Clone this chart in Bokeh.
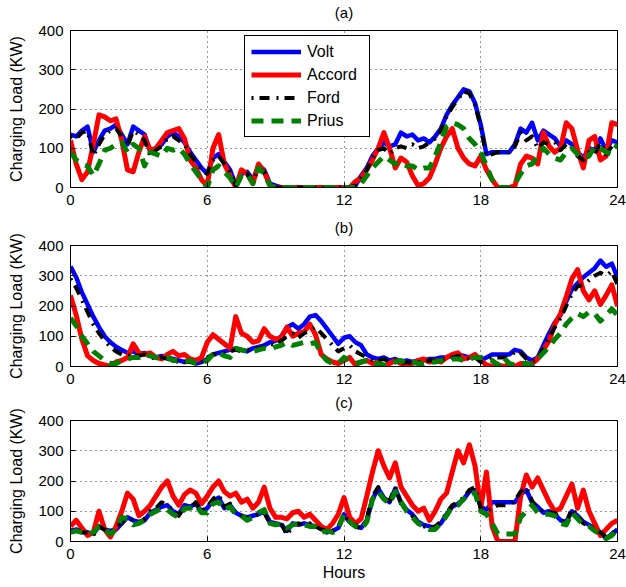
from bokeh.plotting import figure
from bokeh.layouts import column
from bokeh.models import Range1d, FixedTicker, Legend, LegendItem, LinearAxis
from bokeh.embed import file_html
from bokeh.resources import INLINE

# ---------------- data (kW, sampled every 0.25 h from 0 to 24 h) ----------------
hours = [i * 0.25 for i in range(97)]
x_ticks = [0, 6, 12, 18, 24]
y_ticks = [0, 100, 200, 300, 400]
series_names = ["Volt", "Accord", "Ford", "Prius"]

a_volt = [135, 130, 145, 155, 90, 120, 145, 150, 160, 135, 110, 155,
          145, 135, 90, 100, 110, 130, 140, 130, 115, 90, 70, 50,
          35, 75, 85, 65, 45, 5, 35, 40, 20, 55, 45, 10,
          5, 0, 0, 0, 0, 0, 0, 0, 0, 0, 0, 0,
          0, 0, 5, 30, 50, 80, 100, 115, 105, 110, 140, 130,
          135, 120, 125, 115, 130, 150, 185, 210, 230, 250, 245, 215,
          160, 85, 90, 90, 90, 90, 110, 150, 140, 165, 120, 145,
          135, 125, 105, 120, 110, 90, 75, 100, 95, 125, 95, 120,
          115]
a_accord = [120, 60, 20, 40, 110, 185, 180, 170, 175, 120, 45, 40,
            90, 130, 95, 100, 120, 140, 145, 150, 125, 70, 50, 20,
            5, 100, 135, 60, 30, 0, 45, 35, 10, 60, 40, 5,
            0, 0, 0, 0, 0, 0, 0, 0, 0, 0, 0, 0,
            0, 0, 15, 25, 45, 70, 100, 140, 100, 50, 75, 65,
            30, 5, 10, 25, 60, 100, 130, 150, 100, 75, 60, 55,
            80, 45, 20, 0, 0, 0, 5, 60, 80, 75, 60, 140,
            105, 90, 100, 165, 150, 95, 50, 120, 130, 70, 80, 165,
            160]
a_ford = [130, 125, 140, 145, 80, 110, 135, 145, 150, 130, 105, 145,
          135, 120, 80, 95, 105, 125, 130, 120, 110, 85, 65, 45,
          35, 70, 80, 60, 40, 5, 30, 35, 15, 50, 40, 5,
          0, 0, 0, 0, 0, 0, 0, 0, 0, 0, 0, 0,
          0, 0, 5, 25, 45, 75, 95, 100, 85, 100, 105, 100,
          110, 100, 105, 115, 125, 145, 180, 205, 225, 245, 240, 210,
          155, 80, 85, 90, 90, 90, 105, 140, 120, 130, 100, 115,
          110, 115, 95, 110, 100, 80, 70, 90, 85, 115, 85, 105,
          100]
a_prius = [90, 70, 60, 55, 30, 60, 95, 100, 110, 115, 90, 110,
           100, 55, 90, 85, 80, 100, 95, 100, 85, 60, 40, 20,
           0, 45, 55, 40, 25, 0, 30, 35, 10, 50, 35, 5,
           0, 0, 0, 0, 0, 0, 0, 0, 0, 0, 0, 0,
           0, 0, 0, 10, 30, 50, 65, 80, 70, 60, 65, 55,
           55, 45, 50, 50, 80, 115, 155, 165, 160, 150, 125, 110,
           90, 55, 20, 0, 0, 0, 10, 35, 55, 60, 80, 100,
           85, 75, 70, 90, 100, 85, 75, 80, 105, 100, 90, 85,
           110]

b_volt = [330, 295, 245, 205, 165, 130, 100, 80, 65, 55, 45, 50,
          40, 45, 35, 30, 35, 30, 25, 20, 15, 20, 10, 15,
          25, 40, 45, 50, 55, 60, 55, 50, 60, 65, 70, 80,
          85, 100, 130, 140, 125, 140, 165, 170, 150, 125, 100, 75,
          95, 100, 80, 70, 40, 30, 25, 30, 20, 25, 15, 20,
          15, 20, 20, 25, 25, 30, 30, 35, 40, 35, 30, 35,
          20, 30, 40, 40, 40, 40, 55, 50, 30, 20, 30, 70,
          110, 145, 170, 215, 255, 275, 295, 310, 325, 350, 330, 340,
          295]
b_accord = [235, 170, 90, 35, 20, 10, 5, 0, 15, 20, 30, 75,
            45, 40, 45, 30, 25, 40, 50, 35, 40, 25, 20, 30,
            80, 105, 90, 75, 60, 165, 110, 100, 80, 85, 125, 100,
            90, 95, 130, 100, 110, 115, 140, 105, 40, 25, 15, 10,
            20, 30, 5, 15, 20, 10, 15, 0, 10, 20, 10, 5,
            10, 20, 25, 15, 20, 15, 30, 40, 45, 25, 30, 40,
            20, 5, 0, 5, 0, 5, 0, 10, 5, 10, 25, 55,
            85, 140, 175, 230, 290, 320, 250, 220, 250, 205, 235, 270,
            200]
b_ford = [290, 260, 220, 180, 140, 110, 85, 65, 50, 40, 35, 40,
          35, 40, 30, 25, 30, 25, 20, 15, 15, 15, 10, 15,
          30, 40, 40, 45, 50, 55, 50, 55, 55, 60, 65, 75,
          70, 85, 100, 110, 95, 110, 120, 130, 110, 90, 70, 50,
          60, 70, 50, 40, 30, 20, 20, 25, 15, 20, 10, 15,
          10, 15, 15, 20, 20, 25, 25, 30, 35, 30, 25, 30,
          15, 25, 30, 30, 30, 30, 50, 45, 25, 15, 25, 60,
          95, 130, 160, 200, 240, 265, 270, 285, 300, 310, 300, 315,
          270]
b_prius = [160, 135, 100, 75, 50, 35, 20, 10, 10, 20, 25, 30,
           30, 40, 35, 30, 25, 30, 20, 20, 15, 20, 10, 10,
           20, 40, 45, 35, 30, 60, 55, 50, 50, 55, 60, 55,
           65, 70, 80, 70, 75, 80, 75, 80, 40, 20, 10, 10,
           30, 20, 10, 15, 20, 10, 10, 5, 5, 15, 20, 10,
           15, 10, 10, 15, 15, 20, 20, 25, 25, 20, 25, 30,
           30, 25, 20, 5, 30, 10, 5, 10, 10, 5, 25, 45,
           65, 90, 110, 140, 160, 175, 165, 180, 175, 150, 170, 190,
           170]

c_volt = [35, 40, 35, 30, 25, 50, 40, 35, 40, 60, 80, 70,
          65, 70, 95, 105, 115, 120, 100, 90, 120, 115, 125, 100,
          110, 135, 145, 110, 120, 95, 85, 80, 85, 90, 100, 65,
          60, 55, 35, 60, 55, 60, 55, 50, 45, 30, 35, 45,
          90, 65, 50, 45, 70, 140, 175, 145, 130, 175, 130, 105,
          90, 65, 55, 50, 45, 60, 90, 115, 125, 140, 165, 170,
          115, 105, 130, 130, 130, 130, 130, 155, 170, 130, 115, 95,
          100, 90, 70, 65, 100, 85, 65, 55, 45, 30, 10, 25,
          40]
c_accord = [50, 70, 45, 20, 30, 100, 40, 15, 50, 100, 160, 140,
            85, 100, 120, 150, 180, 200, 150, 120, 155, 170, 160, 125,
            150, 180, 200, 165, 150, 160, 130, 140, 110, 130, 180, 110,
            80, 80, 75, 95, 100, 80, 90, 70, 50, 40, 60, 90,
            145, 80, 60, 75, 150, 230, 300, 250, 210, 260, 180, 150,
            120, 100, 110, 70, 100, 140, 160, 230, 300, 260, 320, 250,
            110, 230, 50, 0, 0, 0, 0, 150, 220, 180, 210, 170,
            130, 100, 110, 150, 190, 110, 170, 100, 60, 20, 40, 60,
            70]
c_ford = [35, 40, 30, 30, 20, 50, 40, 30, 45, 65, 80, 70,
          60, 75, 100, 110, 130, 120, 100, 85, 115, 110, 130, 100,
          115, 140, 155, 115, 125, 95, 85, 75, 85, 90, 95, 60,
          55, 60, 20, 55, 60, 55, 60, 50, 40, 35, 35, 50,
          90, 60, 55, 40, 75, 150, 180, 140, 135, 180, 125, 100,
          85, 60, 50, 45, 50, 65, 95, 120, 130, 145, 170, 180,
          110, 100, 110, 120, 120, 120, 135, 165, 180, 135, 110, 100,
          95, 95, 70, 60, 110, 85, 60, 50, 40, 30, 15, 25,
          45]
c_prius = [30, 35, 30, 25, 30, 50, 40, 25, 40, 80, 75, 55,
           60, 70, 90, 100, 110, 105, 90, 80, 110, 110, 120, 95,
           95, 125, 130, 105, 115, 90, 85, 70, 80, 95, 105, 60,
           55, 60, 45, 55, 60, 55, 50, 50, 30, 35, 30, 45,
           90, 65, 50, 40, 65, 140, 165, 140, 125, 165, 130, 100,
           80, 60, 50, 40, 40, 60, 85, 115, 120, 140, 160, 160,
           100, 90, 60, 25, 25, 25, 25, 80, 100, 120, 95, 90,
           90, 85, 60, 55, 95, 75, 55, 50, 35, 25, 10, 20,
           40]

# ---------------- styling ----------------
FONT = "Liberation Sans"
STYLES = [
    dict(color="#0000FF", line_width=4.5, line_dash="solid"),
    dict(color="#FF0000", line_width=5, line_dash="solid"),
    dict(color="#000000", line_width=4, line_dash="2 6 10 7"),
    dict(color="#008000", line_width=5, line_dash="12 8"),
]


def style_axis(ax, ticks):
    ax.ticker = FixedTicker(ticks=ticks)
    ax.major_tick_in = 5
    ax.major_tick_out = 0
    ax.minor_tick_line_color = None
    ax.axis_line_color = "black"
    ax.major_tick_line_color = "black"
    ax.major_label_text_font = FONT
    ax.major_label_text_font_size = "15px"
    ax.major_label_text_color = "black"
    ax.major_label_standoff = 7
    ax.axis_label_text_font = FONT
    ax.axis_label_text_font_size = "16px"
    ax.axis_label_text_font_style = "normal"
    ax.axis_label_text_color = "black"


def make_panel(height, top, bottom, title, series, legend=False, xlabel=None):
    p = figure(width=626, height=height, output_backend="svg", toolbar_location=None,
               x_range=Range1d(0, 24), y_range=Range1d(0, 400),
               min_border_left=70, min_border_right=9,
               min_border_top=top, min_border_bottom=bottom,
               background_fill_color="white", border_fill_color="white")

    p.outline_line_color = "black"
    p.outline_line_width = 1
    p.outline_line_alpha = 1

    bottom_ax = p.below[0]
    left_ax = p.left[0]
    style_axis(bottom_ax, x_ticks)
    style_axis(left_ax, y_ticks)

    left_ax.axis_label = "Charging Load (KW)"
    left_ax.axis_label_standoff = 10
    if xlabel:
        bottom_ax.axis_label = xlabel
        bottom_ax.axis_label_standoff = 2

    # top axis carries only the panel caption
    top_ax = LinearAxis()
    style_axis(top_ax, [])
    top_ax.major_label_standoff = 0
    top_ax.major_tick_in = 0
    top_ax.axis_label = title
    top_ax.axis_label_text_font_size = "15px"
    top_ax.axis_label_standoff = 10
    p.add_layout(top_ax, "above")

    for g in (p.xgrid, p.ygrid):
        g.grid_line_color = "black"
        g.grid_line_dash = "1 4"
        g.grid_line_width = 1
        g.grid_line_alpha = 0.8

    renderers = []
    for vals, st in zip(series, STYLES):
        r = p.line(hours, vals, line_join="round", **st)
        renderers.append(r)

    if legend:
        items = [LegendItem(label=n, renderers=[r]) for n, r in zip(series_names, renderers)]
        lg = Legend(items=items, location=(174, 50))
        lg.border_line_color = "black"
        lg.border_line_width = 1
        lg.border_line_alpha = 1
        lg.background_fill_color = "white"
        lg.background_fill_alpha = 1
        lg.label_text_font = FONT
        lg.label_text_font_size = "16px"
        lg.label_text_color = "black"
        lg.glyph_width = 50
        lg.glyph_height = 19
        lg.label_height = 19
        lg.label_width = 56
        lg.label_standoff = 6
        lg.spacing = 4
        lg.padding = 6
        lg.margin = 0
        p.add_layout(lg)
    return p


pa = make_panel(215, 30, 28, "(a)", [a_volt, a_accord, a_ford, a_prius], legend=True)
pb = make_panel(175, 28, 24, "(b)", [b_volt, b_accord, b_ford, b_prius])
pc = make_panel(197, 28, 46, "(c)", [c_volt, c_accord, c_ford, c_prius], xlabel="Hours")

layout = column(pa, pb, pc, spacing=0)

open("out.html", "w").write(file_html(layout, INLINE))
